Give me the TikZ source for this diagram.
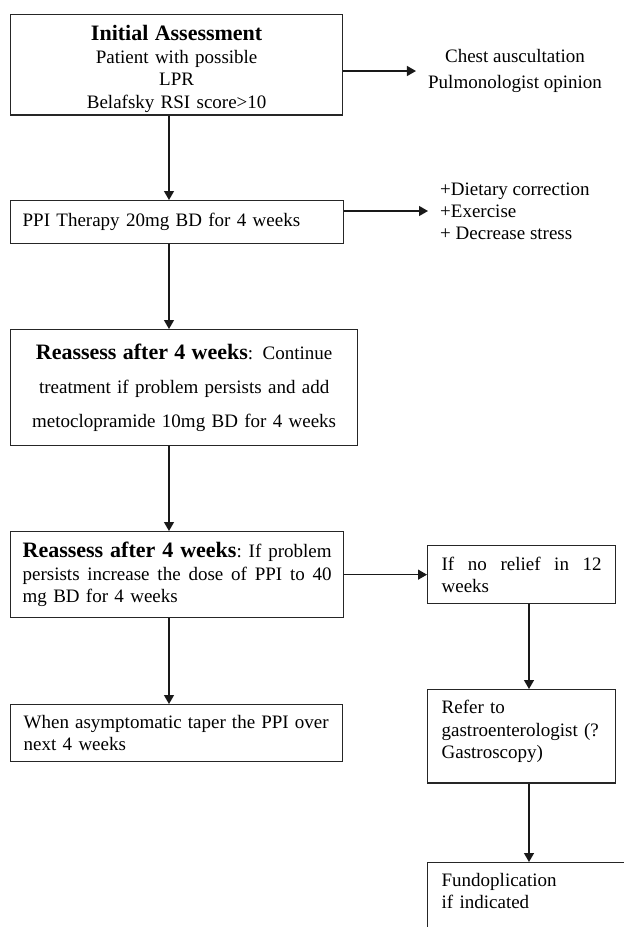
\documentclass[tikz,border=0pt]{standalone}
\usepackage{fontspec}
\setmainfont{Liberation Serif}
\usetikzlibrary{arrows.meta,calc}
\newcommand\boldhead[1]{{\fontsize{22}{22}\selectfont\bfseries #1}}
\newcommand\fullline[2]{\noindent\hbox to #1{#2}}
\begin{document}
\begin{tikzpicture}[x=1pt,y=-1pt,
  box/.style={draw=black!85, line width=1.3pt, anchor=north west, inner xsep=12pt,
              font=\fontsize{19}{22.5}\selectfont},
  arr/.style={draw=black!90, line width=1.3pt, -{Triangle[length=9pt,width=10pt]}},
  note/.style={inner sep=0pt, font=\fontsize{19}{22}\selectfont}
]
\path[use as bounding box] (0,0) rectangle (624,927);
\clip (0,0) rectangle (624,927);

\node[box, minimum width=332pt, inner ysep=11pt, text depth=63pt, text width=308pt, align=center] (b1) at (10,14)
  {\boldhead{Initial Assessment}\\Patient with possible\\LPR\\Belafsky RSI score>10};
\node[box, minimum width=333pt, minimum height=43pt, text width=309pt, align=left] (b2) at (10,200)
  {PPI Therapy 20mg BD for 4 weeks};
\node[box, minimum width=347pt, minimum height=116pt, text width=323pt, align=center,
      font=\fontsize{19}{34}\selectfont] (b3) at (10,329)
  {\boldhead{Reassess after 4 weeks}: Continue\\treatment if problem persists and add\\metoclopramide 10mg BD for 4 weeks};
\node[box, minimum width=333pt, minimum height=86pt, text width=309pt, align=left] (b4) at (10,531)
  {\fullline{309pt}{\boldhead{Reassess\hfill after\hfill 4\hfill weeks}:\hfill If\hfill problem}\\
   \fullline{309pt}{persists\hfill increase\hfill the\hfill dose\hfill of\hfill PPI\hfill to\hfill 40}\\
   mg BD for 4 weeks};
\node[box, inner xsep=14pt, minimum width=188pt, minimum height=58pt, text width=160pt, align=left] (b5) at (427,545)
  {\fullline{160pt}{If\hfill no\hfill relief\hfill in\hfill 12}\\weeks};
\node[box, inner xsep=14pt, minimum width=188pt, inner ysep=10.5pt, text depth=59pt, text width=160pt, align=left] (b6) at (427,689)
  {Refer to\\gastroenterologist (?\\Gastroscopy)};
\node[box, inner xsep=14pt, minimum width=240pt, inner ysep=10.5pt, text depth=80pt, text width=212pt, align=left] (b7) at (427,862)
  {Fundoplication\\if indicated};
\node[box, inner xsep=13pt, minimum width=332pt, minimum height=57pt, text width=306pt, align=left] (b8) at (10,704)
  {\fullline{305pt}{When\hfill asymptomatic\hfill taper\hfill the\hfill PPI\hfill over}\\next 4 weeks};

\node[note, align=center, font=\fontsize{19}{26}\selectfont] (t1) at (515,71)
  {Chest auscultation\\Pulmonologist opinion};
\node[note, anchor=west, align=left] (t2) at (440,211)
  {+Dietary correction\\+Exercise\\+ Decrease stress};

\coordinate (ax) at (169,0);
\coordinate (bx) at (529,0);

\draw[arr] (b1.south -| ax) -- (b2.north -| ax);
\draw[arr] (b2.south -| ax) -- (b3.north -| ax);
\draw[arr] (b3.south -| ax) -- (b4.north -| ax);
\draw[arr] (b4.south -| ax) -- (b8.north -| ax);
\draw[arr] (b4.east) -- (b4.east -| b5.west);
\draw[arr] (b5.south -| bx) -- (b6.north -| bx);
\draw[arr] (b6.south -| bx) -- (b7.north -| bx);
\draw[arr] (b1.east |- t1) -- ([xshift=-12pt]t1.west);
\draw[arr] (b2.east |- t2) -- ([xshift=-12pt]t2.west);
\end{tikzpicture}
\end{document}
